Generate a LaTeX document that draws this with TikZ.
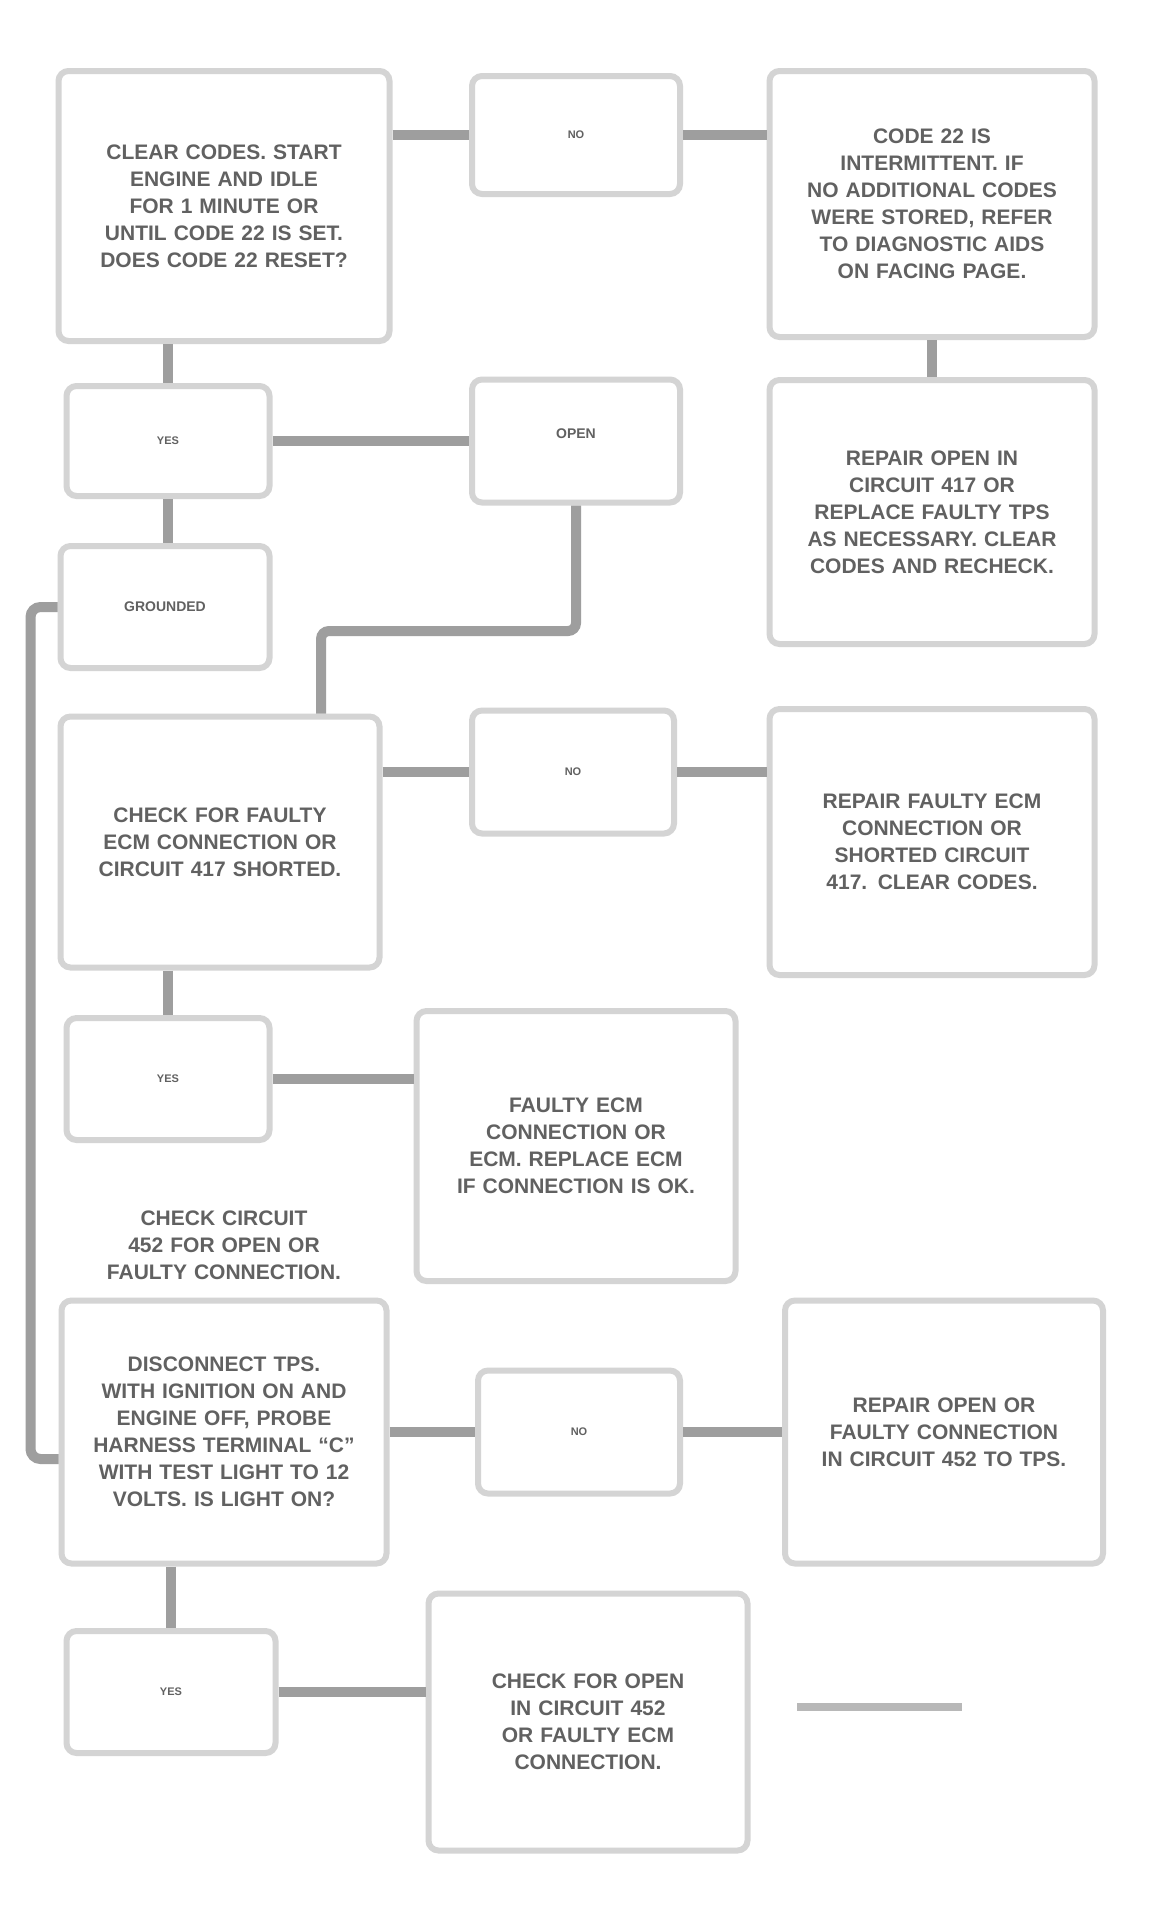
\documentclass[tikz,border=0pt]{standalone}
\usepackage{fontspec}
\setmainfont{Liberation Sans}
\begin{document}
\begin{tikzpicture}[x=1pt,y=-1pt,
  box/.style={draw=black!17,line width=6pt,rounded corners=10pt,fill=white,
    text=black!62,font=\bfseries\fontsize{21}{27}\selectfont,align=center,inner sep=4pt,
    execute at begin node={\hyphenpenalty=10000\exhyphenpenalty=10000\relax}},
  ans/.style={box,font=\bfseries\fontsize{11}{13}\selectfont},
  wire/.style={draw=black!38,line width=10pt},
  thin/.style={draw=black!28,line width=8pt}]
\useasboundingbox[fill=white] (0,0) rectangle (1150,1930);
% row 1
\node[box,minimum width=331pt,minimum height=270pt,text width=265pt] (A) at (224,206)
  {CLEAR CODES. START ENGINE AND IDLE FOR 1 MINUTE OR UNTIL CODE 22 IS SET. DOES CODE 22 RESET?};
\node[ans,minimum width=208pt,minimum height=118pt] (B) at (576,135) {NO};
\node[box,minimum width=325pt,minimum height=266pt,text width=255pt] (C) at (932,204)
  {CODE 22 IS INTERMITTENT. IF NO ADDITIONAL CODES WERE STORED, REFER TO DIAGNOSTIC AIDS ON FACING PAGE.};
% row 2
\node[ans,minimum width=203pt,minimum height=110pt] (D) at (168,441) {YES};
\node[box,minimum width=208pt,minimum height=123pt,font=\bfseries\fontsize{14}{16}\selectfont,text depth=14pt] (E) at (576,441) {OPEN};
\node[box,minimum width=325pt,minimum height=264pt,text width=255pt] (F) at (932,512)
  {REPAIR OPEN IN CIRCUIT 417 OR REPLACE FAULTY TPS AS NECESSARY. CLEAR CODES AND RECHECK.};
% row 3
\node[box,minimum width=209pt,minimum height=122pt,font=\bfseries\fontsize{14}{16}\selectfont] (G) at (165,607) {GROUNDED};
% row 4
\node[box,minimum width=319pt,minimum height=251pt,text width=255pt] (H) at (220,842)
  {CHECK FOR FAULTY ECM CONNECTION OR CIRCUIT 417 SHORTED.};
\node[ans,minimum width=202pt,minimum height=123pt] (I) at (573,772) {NO};
\node[box,minimum width=325pt,minimum height=266pt,text width=255pt] (J) at (932,842)
  {REPAIR FAULTY ECM CONNECTION OR SHORTED CIRCUIT 417. CLEAR CODES.};
% row 5
\node[ans,minimum width=203pt,minimum height=122pt] (K) at (168,1079) {YES};
\node[box,minimum width=319pt,minimum height=270pt,text width=250pt] (L) at (576,1146)
  {FAULTY ECM CONNECTION OR ECM. REPLACE ECM IF CONNECTION IS OK.};
\node[text=black!62,font=\bfseries\fontsize{21}{27}\selectfont,align=center,text width=300pt] (T) at (224,1245)
  {CHECK CIRCUIT 452 FOR OPEN OR FAULTY CONNECTION.};
% row 6
\node[box,minimum width=325pt,minimum height=263pt,text width=262pt] (M) at (224,1432)
  {DISCONNECT TPS. WITH IGNITION ON AND ENGINE OFF, PROBE HARNESS TERMINAL ``C'' WITH TEST LIGHT TO 12 VOLTS. IS LIGHT ON?};
\node[ans,minimum width=202pt,minimum height=123pt] (N) at (579,1432) {NO};
\node[box,minimum width=318pt,minimum height=263pt,text width=250pt] (O) at (944,1432)
  {REPAIR OPEN OR FAULTY CONNECTION IN CIRCUIT 452 TO TPS.};
% row 7
\node[ans,minimum width=209pt,minimum height=122pt] (P) at (171,1692) {YES};
\node[box,minimum width=319pt,minimum height=257pt,text width=250pt] (Q) at (588,1722)
  {CHECK FOR OPEN IN CIRCUIT 452 OR FAULTY ECM CONNECTION.};
\coordinate (q1) at (797,1707);
\coordinate (q2) at (962,1707);
\coordinate (e1) at (321,631);
% connectors
\draw[wire] (A.east |- B) -- (B.west);
\draw[wire] (B.east) -- (B -| C.west);
\draw[wire] (D.north |- A.south) -- (D.north);
\draw[wire] (C.south) -- (C.south |- F.north);
\draw[wire] (D.east) -- (E.west);
\draw[wire] (D.south) -- (D.south |- G.north);
\draw[wire,rounded corners=8pt] (E.south) |- (e1) -- (e1 |- H.north);
\draw[wire] (H.east |- I) -- (I.west);
\draw[wire] (I.east) -- (I -| J.west);
\draw[wire] (H.south -| K.north) -- (K.north);
\draw[wire] (K.east) -- (K -| L.west);
\draw[wire,rounded corners=10pt] (G.west) -- ++(-27,0) |- ([yshift=-27pt]M.west);
\draw[wire] (M.east) -- (N.west);
\draw[wire] (N.east) -- (N -| O.west);
\draw[wire] (M.south -| P.north) -- (P.north);
\draw[wire] (P.east) -- (P -| Q.west);
\draw[thin] (q1) -- (q2);
\end{tikzpicture}
\end{document}
